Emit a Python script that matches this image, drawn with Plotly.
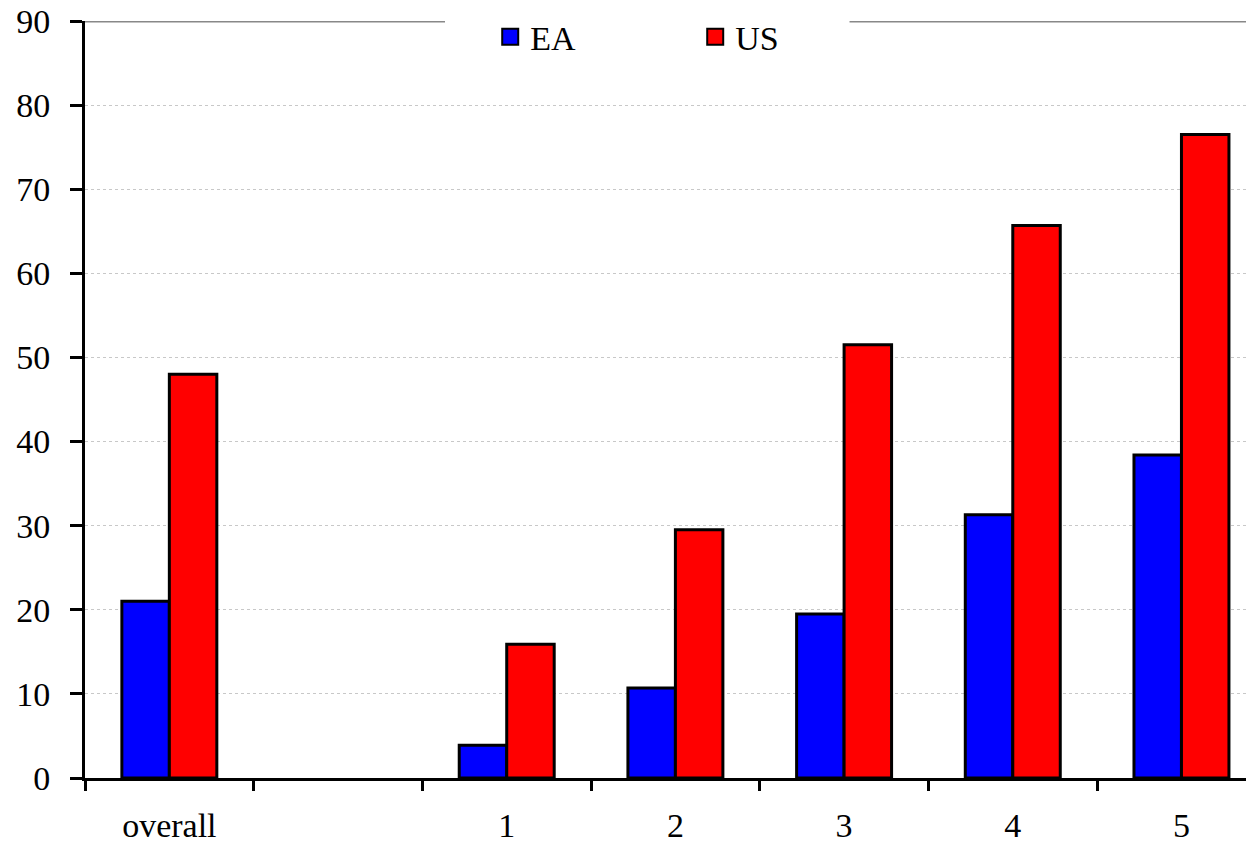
import plotly.graph_objects as go

categories = ["overall", " ", "1", "2", "3", "4", "5"]
ea_values = [21.0, None, 3.9, 10.7, 19.5, 31.3, 38.4]
us_values = [48.0, None, 15.9, 29.5, 51.5, 65.7, 76.5]
y_ticks = [0, 10, 20, 30, 40, 50, 60, 70, 80, 90]
series_names = ["EA", "US"]
series_colors = ["#0000FF", "#FF0000"]

FONT = "Liberation Serif"
FS = 34

fig = go.Figure()
for name, vals, col in zip(series_names, [ea_values, us_values], series_colors):
    fig.add_trace(go.Bar(x=categories, y=vals, name=name, showlegend=False,
                         marker=dict(color=col, line=dict(color="black", width=3))))
# legend entries with larger square swatches
for name, col in zip(series_names, series_colors):
    fig.add_trace(go.Scatter(x=[None], y=[None], name=name, mode="markers",
                             marker=dict(symbol="square", size=16, color=col,
                                         line=dict(color="black", width=2))))

# solid grey line at the top of the value axis, interrupted behind the legend
for x0, x1, col in [(0, 0.308, "#888888"), (0.308, 0.654, "white"), (0.654, 1, "#888888")]:
    fig.add_shape(type="line", xref="paper", yref="y", x0=x0, x1=x1, y0=90, y1=90,
                  line=dict(color=col, width=3), layer="above")

fig.update_layout(
    width=1246, height=835,
    margin=dict(l=77, r=0, t=10, b=65),
    paper_bgcolor="white", plot_bgcolor="white",
    barmode="group", bargap=0.437, bargroupgap=0,
    font=dict(family=FONT, size=FS, color="black"),
    showlegend=True,
    legend=dict(orientation="h", x=0.522, xanchor="center", y=1.017, yanchor="top",
                bgcolor="rgba(0,0,0,0)", entrywidth=160, entrywidthmode="pixels",
                font=dict(family=FONT, size=FS), itemsizing="trace",
                tracegroupgap=0),
    xaxis=dict(type="category", range=[-0.5, 6.43], tickson="boundaries",
               ticks="outside", ticklen=10, tickwidth=3, tickcolor="black",
               showline=True, linecolor="black", linewidth=3,
               showgrid=False, ticklabelstandoff=15, automargin=False,
               ticklabeloverflow="allow",
               tickfont=dict(family=FONT, size=FS)),
    yaxis=dict(range=[0, 90], tickvals=y_ticks, ticks="outside", ticklen=12,
               tickwidth=3, tickcolor="black", showline=True, linecolor="black",
               linewidth=3, showgrid=True, gridcolor="#c8c8c8", griddash="dot",
               gridwidth=1, zeroline=False, ticklabelstandoff=13, automargin=False,
               ticklabeloverflow="allow",
               tickfont=dict(family=FONT, size=FS)),
)

fig.write_html("out.html")
